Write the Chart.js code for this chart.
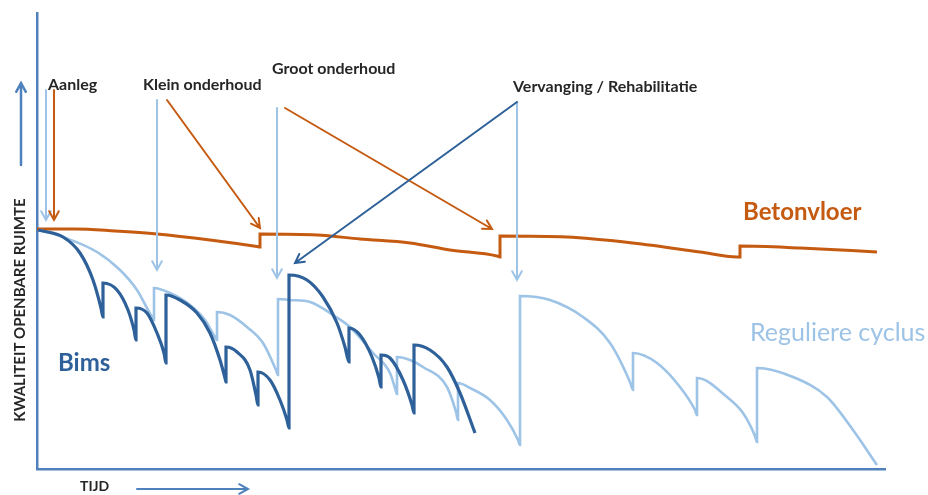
<!DOCTYPE html>
<html>
<head>
<meta charset="utf-8">
<script src="https://cdn.jsdelivr.net/npm/chart.js@4.4.0/dist/chart.umd.min.js"></script>
<style>
  html, body { margin: 0; padding: 0; background: #fff; }
  #wrap { width: 928px; height: 495px; position: relative; }
</style>
</head>
<body>
<div id="wrap"><canvas id="myChart"></canvas></div>
<script>
// tijd (x) en kwaliteit (y)
const betonT = [0, 38, 78, 120, 173, 220, 223, 223, 280, 323, 373, 413, 460, 463, 463, 530, 596, 663, 700, 703, 703, 763, 840]
const betonQ = [240, 240, 238, 235, 229, 222.5, 222, 235, 234, 230, 226, 219, 213, 212, 233, 232, 226, 217, 212, 212, 223, 221, 217]

const regulierT = [3, 26, 60, 83, 100, 111, 115, 117, 117, 133, 153, 168, 178, 180, 180, 193, 210, 226, 239, 241, 241, 253, 273, 296, 313, 336, 353, 358, 360, 360, 373, 386, 410, 419, 421, 421, 433, 453, 470, 481, 483, 483, 513, 546, 573, 593, 596, 596, 620, 643, 658, 660, 660, 690, 706, 718, 720, 720, 756, 790, 816, 840]
const regulierQ = [239, 232, 217, 199, 179, 159, 152, 149, 181, 176, 164, 149, 132, 129, 157, 154, 142, 126, 99, 94, 170, 169, 167, 154, 142, 116, 96, 81, 75, 112, 109, 102, 82, 57, 49, 86, 81, 69, 49, 29, 24, 173, 169, 152, 126, 87, 79, 116, 106, 82, 59, 54, 91, 72, 56, 33, 27, 101, 92, 72, 39, 4]

const bimsT = [1, 26, 43, 56, 64, 66, 66, 80, 91, 97, 99, 99, 110, 120, 127, 129, 129, 143, 160, 173, 183, 188, 189, 189, 200, 213, 219, 221, 221, 233, 243, 250, 252, 252, 270, 286, 300, 308, 312, 312, 323, 335, 342, 344, 344, 353, 366, 375, 377, 377, 393, 410, 423, 438]
const bimsQ = [239, 232, 216, 189, 161, 152, 186, 179, 159, 139, 129, 161, 156, 136, 116, 106, 174, 169, 156, 136, 109, 91, 87, 122, 117, 99, 74, 64, 97, 89, 69, 49, 41, 194, 189, 172, 146, 122, 107, 141, 134, 112, 91, 82, 114, 111, 89, 64, 56, 124, 119, 102, 76, 36]

// pijlen: [van t, van q, naar t, naar q, soort]
const arrows = [
  [9, 379, 9, 249, "licht"],
  [17, 379, 17, 249, "oranje"],
  [120, 369, 120, 199, "licht"],
  [130, 369, 223, 241, "oranje"],
  [240, 361, 240, 191, "licht"],
  [248, 361, 455, 240, "oranje"],
  [480, 367, 480, 189, "licht"],
  [480, 367, 258, 206, "donker"]
]

// teksten: [tekst, t, q, soort]
const labels = [
  ["Aanleg", 11, 384, "kop"],
  ["Klein onderhoud", 106, 384, "kop"],
  ["Groot onderhoud", 235, 400, "kop"],
  ["Vervanging / Rehabilitatie", 476, 382, "kop"],
  ["Betonvloer", 706, 257, "oranje"],
  ["Reguliere cyclus", 713, 136, "licht"],
  ["Bims", 21, 106, "donker"]
]

const kleur = { licht: "#9dc3e6", oranje: "#c55a11", donker: "#2e6099", kop: "#262626", as: "#4f81bd" }
const letter = {
  kop: "bold 16px Lato",
  oranje: "bold 24px Lato",
  licht: "25px Lato",
  donker: "bold 24px Lato"
}

const toPoints = (ts, qs) => ts.map((t, i) => ({ x: t, y: qs[i] }))

function drawArrow(ctx, x1, y1, x2, y2, color, width) {
  const ang = Math.atan2(y2 - y1, x2 - x1)
  const len = 10
  ctx.strokeStyle = color
  ctx.lineWidth = width
  ctx.lineCap = "round"
  ctx.beginPath()
  ctx.moveTo(x1, y1)
  ctx.lineTo(x2, y2)
  ctx.moveTo(x2 - len * Math.cos(ang - 0.5), y2 - len * Math.sin(ang - 0.5))
  ctx.lineTo(x2, y2)
  ctx.lineTo(x2 - len * Math.cos(ang + 0.5), y2 - len * Math.sin(ang + 0.5))
  ctx.stroke()
}

const notes = {
  id: "notes",
  afterDatasetsDraw(chart) {
    const { ctx, chartArea, scales: { x, y } } = chart
    ctx.save()
    arrows.forEach(a => {
      drawArrow(ctx, x.getPixelForValue(a[0]), y.getPixelForValue(a[1]),
        x.getPixelForValue(a[2]), y.getPixelForValue(a[3]), kleur[a[4]], 2)
    })
    ctx.textBaseline = "middle"
    ctx.textAlign = "left"
    labels.forEach(l => {
      ctx.font = letter[l[3]]
      ctx.fillStyle = kleur[l[3]]
      ctx.fillText(l[0], x.getPixelForValue(l[1]), y.getPixelForValue(l[2]))
    })

    // astitels
    const left = chartArea.left, bottom = chartArea.bottom
    ctx.save()
    ctx.translate(left - 17, bottom - 159)
    ctx.rotate(-Math.PI / 2)
    ctx.textAlign = "center"
    ctx.font = "bold 15px Lato"
    ctx.fillStyle = kleur.kop
    ctx.fillText("KWALITEIT OPENBARE RUIMTE", 0, 0)
    ctx.restore()
    drawArrow(ctx, left - 16, chartArea.top + 152, left - 16, chartArea.top + 70, kleur.as, 2.5)

    ctx.font = "bold 14px Lato"
    ctx.fillStyle = kleur.kop
    ctx.fillText("TIJD", left + 43, bottom + 17)
    drawArrow(ctx, left + 100, bottom + 20, left + 211, bottom + 20, kleur.as, 2)
    ctx.restore()
  }
}

const ctx = document.getElementById("myChart").getContext("2d")
new Chart(ctx, {
  type: "line",
  data: {
    datasets: [
      {
        label: "Bims",
        data: toPoints(bimsT, bimsQ),
        borderColor: kleur.donker,
        borderWidth: 3.2,
        pointRadius: 0,
        cubicInterpolationMode: "monotone"
      },
      {
        label: "Reguliere cyclus",
        data: toPoints(regulierT, regulierQ),
        borderColor: kleur.licht,
        borderWidth: 2.6,
        pointRadius: 0,
        cubicInterpolationMode: "monotone"
      },
      {
        label: "Betonvloer",
        data: toPoints(betonT, betonQ),
        borderColor: kleur.oranje,
        borderWidth: 3,
        pointRadius: 0,
        cubicInterpolationMode: "monotone"
      }
    ]
  },
  options: {
    responsive: true,
    maintainAspectRatio: false,
    animation: false,
    layout: { padding: { left: 37, right: 43, top: 13, bottom: 26 } },
    plugins: { legend: { display: false }, tooltip: { enabled: false } },
    scales: {
      x: {
        type: "linear", min: 0, max: 848,
        grid: { display: false, drawTicks: false }, ticks: { display: false },
        border: { color: kleur.as, width: 2.5 }
      },
      y: {
        type: "linear", min: 0, max: 456,
        grid: { display: false, drawTicks: false }, ticks: { display: false },
        border: { color: kleur.as, width: 2.5 }
      }
    }
  },
  plugins: [notes]
})
</script>
</body>
</html>
